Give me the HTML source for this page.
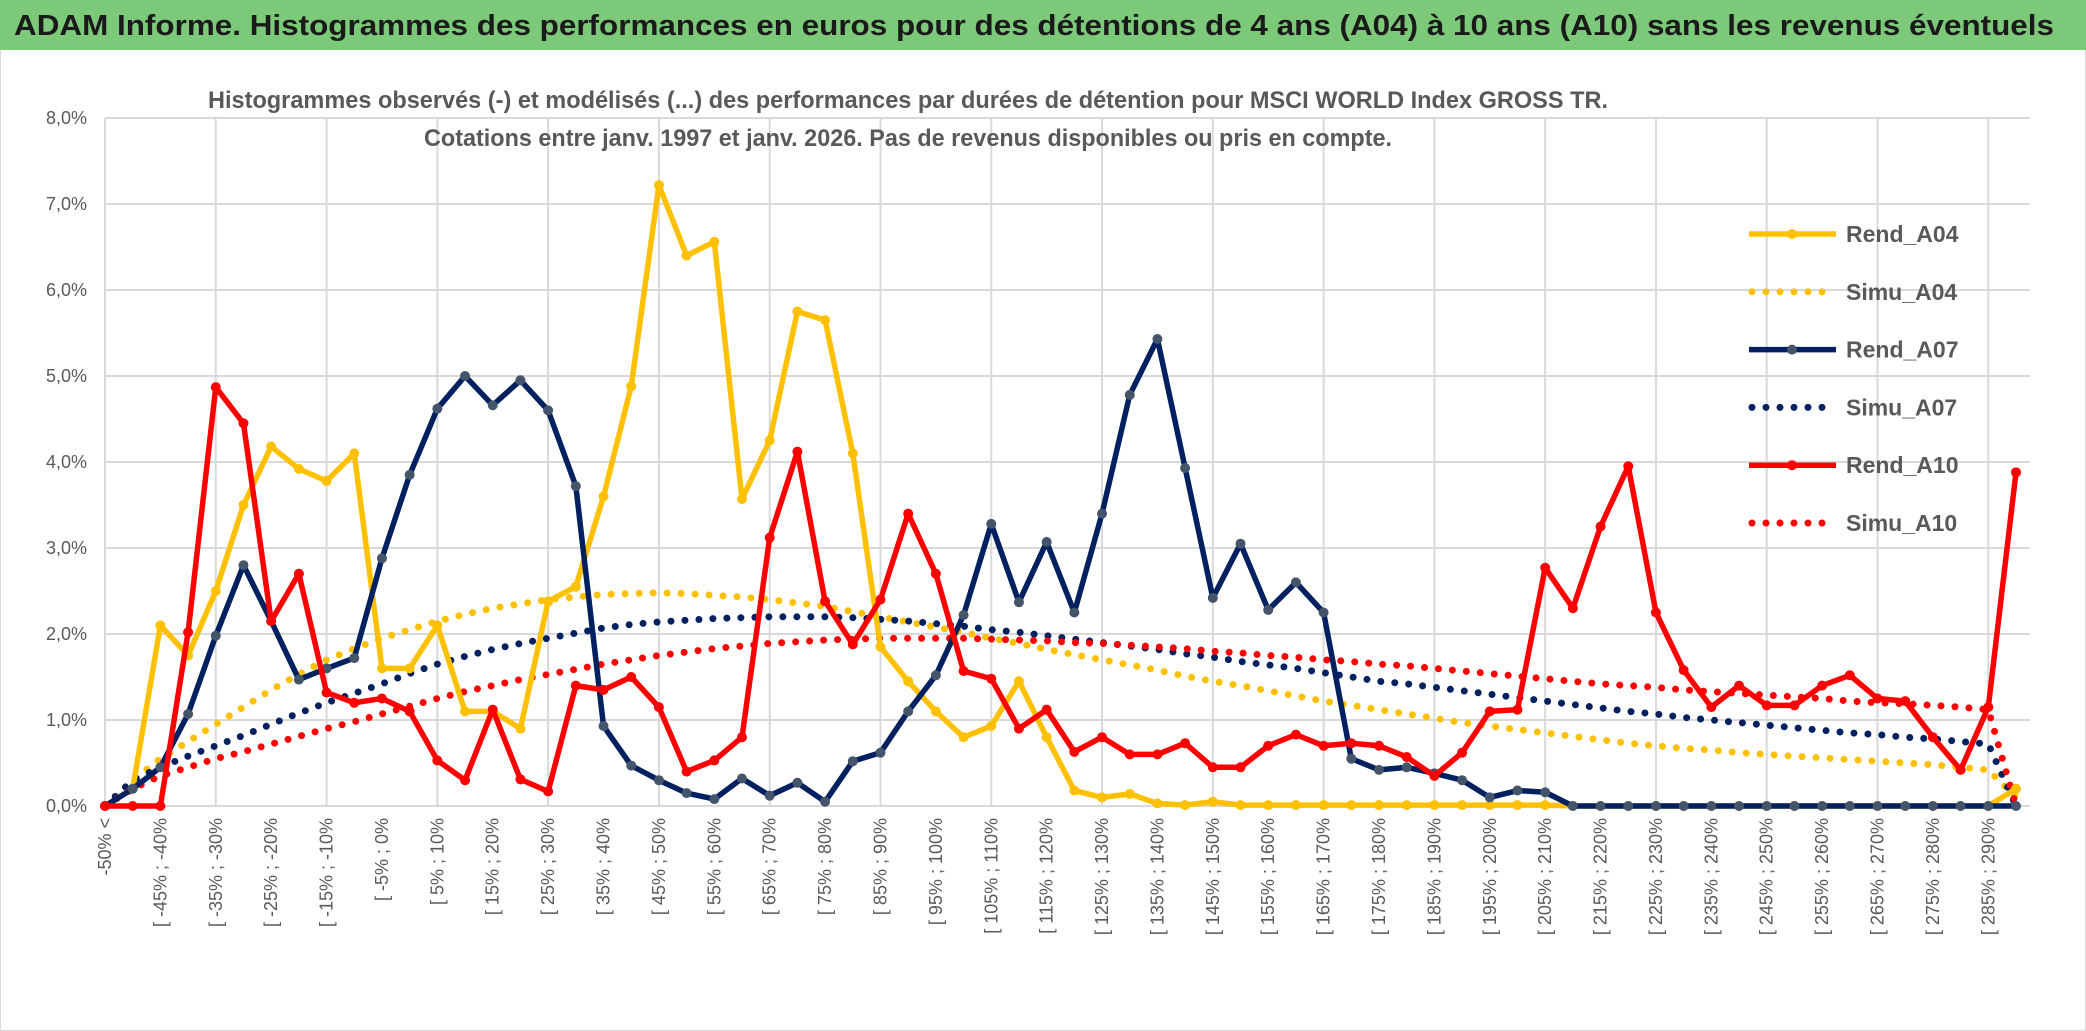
<!DOCTYPE html>
<html><head><meta charset="utf-8"><style>
body{margin:0;background:#fff;}
svg{display:block;font-family:"Liberation Sans Narrow","Liberation Sans",sans-serif;}
</style></head><body>
<svg id="chart" width="2086" height="1031" viewBox="0 0 2086 1031" xmlns="http://www.w3.org/2000/svg">
<rect x="0" y="0" width="2086" height="1031" fill="#fff" stroke="#d9d9d9" stroke-width="2"/>
<rect x="0" y="0" width="2086" height="50" fill="#7cc97a"/>
<text x="14" y="35" font-size="29" font-weight="bold" fill="#1a1a1a" textLength="2040" lengthAdjust="spacingAndGlyphs">ADAM Informe. Histogrammes des performances en euros pour des détentions de 4 ans (A04) à 10 ans (A10) sans les revenus éventuels</text>
<g id="grid"></g>
<text x="908" y="108" text-anchor="middle" font-size="24" font-weight="bold" fill="#595959" textLength="1400" lengthAdjust="spacingAndGlyphs">Histogrammes observés (-) et modélisés (...) des performances par durées de détention pour MSCI WORLD Index GROSS TR.</text>
<text x="908" y="146" text-anchor="middle" font-size="24" font-weight="bold" fill="#595959" textLength="968" lengthAdjust="spacingAndGlyphs">Cotations entre janv. 1997 et janv. 2026. Pas de revenus disponibles ou pris en compte.</text>
<g id="yaxis"></g>
<g id="xaxis"></g>
<g id="series"></g>
<g id="legend"></g>
</svg>
<script>
const yTicks = [0,1,2,3,4,5,6,7,8];
const yTickLabels = ["0,0%","1,0%","2,0%","3,0%","4,0%","5,0%","6,0%","7,0%","8,0%"];
const categories = ["-50% <"];
for (let k = -50; k < 295; k += 5) categories.push("[ " + k + "% ; " + (k+5) + "%");
const rendA04 = [0,0.2,2.1,1.75,2.5,3.5,4.18,3.92,3.78,4.1,1.6,1.6,2.1,1.1,1.1,0.9,2.38,2.55,3.6,4.88,7.22,6.4,6.56,3.57,4.25,5.75,5.65,4.1,1.85,1.45,1.1,0.8,0.93,1.45,0.8,0.18,0.1,0.14,0.03,0.01,0.05,0.01,0.01,0.01,0.01,0.01,0.01,0.01,0.01,0.01,0.01,0.01,0.01,0,0,0,0,0,0,0,0,0,0,0,0,0,0,0,0,0.2];
const rendA07 = [0,0.2,0.45,1.07,1.98,2.8,2.15,1.47,1.6,1.72,2.88,3.85,4.62,5.0,4.66,4.95,4.6,3.72,0.93,0.47,0.3,0.15,0.08,0.32,0.12,0.27,0.05,0.52,0.62,1.1,1.52,2.22,3.28,2.37,3.07,2.25,3.4,4.78,5.43,3.93,2.42,3.05,2.28,2.6,2.25,0.55,0.42,0.45,0.38,0.3,0.1,0.18,0.16,0,0,0,0,0,0,0,0,0,0,0,0,0,0,0,0,0];
const rendA10 = [0,0,0,2.02,4.87,4.45,2.15,2.7,1.32,1.2,1.25,1.1,0.53,0.3,1.12,0.31,0.17,1.4,1.35,1.5,1.15,0.4,0.53,0.8,3.12,4.12,2.38,1.88,2.4,3.4,2.7,1.57,1.48,0.9,1.12,0.63,0.8,0.6,0.6,0.73,0.45,0.45,0.7,0.83,0.7,0.73,0.7,0.57,0.35,0.62,1.1,1.12,2.77,2.3,3.25,3.95,2.25,1.58,1.15,1.4,1.17,1.17,1.4,1.52,1.25,1.22,0.8,0.42,1.15,3.88];
const simuA04 = [0,0.3,0.55,0.75,0.95,1.15,1.35,1.53,1.7,1.83,1.95,2.05,2.15,2.23,2.3,2.35,2.4,2.43,2.46,2.47,2.48,2.47,2.45,2.43,2.4,2.36,2.32,2.26,2.2,2.14,2.08,2.02,1.95,1.89,1.82,1.76,1.7,1.64,1.58,1.51,1.45,1.4,1.34,1.28,1.22,1.17,1.12,1.07,1.02,0.97,0.93,0.89,0.85,0.81,0.77,0.73,0.7,0.67,0.65,0.62,0.6,0.58,0.56,0.54,0.52,0.5,0.48,0.45,0.42,0.1];
const simuA07 = [0,0.3,0.45,0.58,0.7,0.82,0.95,1.08,1.2,1.31,1.42,1.54,1.65,1.74,1.82,1.89,1.95,2.01,2.07,2.11,2.14,2.16,2.18,2.19,2.2,2.2,2.2,2.19,2.17,2.15,2.12,2.09,2.05,2.02,1.98,1.94,1.9,1.86,1.82,1.77,1.73,1.68,1.64,1.6,1.55,1.5,1.45,1.42,1.38,1.34,1.3,1.26,1.22,1.18,1.14,1.1,1.07,1.03,1.0,0.97,0.94,0.91,0.88,0.85,0.83,0.8,0.78,0.75,0.72,0];
const simuA10 = [0,0.2,0.35,0.45,0.55,0.63,0.72,0.81,0.9,0.98,1.07,1.16,1.25,1.33,1.4,1.47,1.53,1.59,1.65,1.7,1.75,1.79,1.83,1.86,1.89,1.91,1.93,1.94,1.95,1.95,1.95,1.95,1.94,1.93,1.92,1.9,1.89,1.87,1.85,1.83,1.8,1.78,1.75,1.73,1.7,1.68,1.65,1.63,1.6,1.57,1.54,1.51,1.48,1.45,1.42,1.4,1.38,1.35,1.33,1.31,1.29,1.27,1.25,1.22,1.2,1.19,1.17,1.15,1.12,0];

const NS = "http://www.w3.org/2000/svg";
const X0 = 105, X1 = 2016, Y0 = 806, Y8 = 118, PLOT_R = 2030;
const xScale = i => X0 + (X1 - X0) * i / (categories.length - 1);
const yScale = v => Y0 - (Y0 - Y8) * v / 8;
function mk(tag, attrs, parent){const e=document.createElementNS(NS,tag);for(const k in attrs)e.setAttribute(k,attrs[k]);parent.appendChild(e);return e;}

const grid = document.getElementById('grid');
yTicks.forEach(t=>{
  const l = mk('line',{x1:X0,x2:PLOT_R,y1:yScale(t),y2:yScale(t),stroke:'#d9d9d9','stroke-width':2},grid);
  
  
});
for (let i=0;i<categories.length;i+=4){
  const l = mk('line',{x1:xScale(i),x2:xScale(i),y1:Y8,y2:Y0,stroke:'#d9d9d9','stroke-width':2},grid);
  
  
}
const yax = document.getElementById('yaxis');
yTicks.forEach((t,k)=>{
  const tx = mk('text',{x:87,y:yScale(t)+6,'text-anchor':'end','font-size':18,fill:'#595959'},yax);
  tx.textContent = yTickLabels[k];
  
  
});
const xax = document.getElementById('xaxis');
categories.forEach((c,i)=>{
  if (i%2) return;
  const x = xScale(i)+6, y = 818;
  const tx = mk('text',{x:x,y:y,'text-anchor':'end','font-size':18,fill:'#595959',transform:`rotate(-90 ${x} ${y})`},xax);
  tx.textContent = c;
  
  
});

const series = document.getElementById('series');
function dotted(data,color,name){
  const pts = data.map((v,i)=>xScale(i)+','+yScale(v)).join(' ');
  const p = mk('polyline',{points:pts,fill:'none',stroke:color,'stroke-width':7,'stroke-linecap':'round','stroke-dasharray':'0 14'},series);
  
  
}
function solid(data,color,mcol,name){
  const g = mk('g',{},series);
  
  
  const pts = data.map((v,i)=>xScale(i)+','+yScale(v)).join(' ');
  mk('polyline',{points:pts,fill:'none',stroke:color,'stroke-width':5.5,'stroke-linejoin':'round'},g);
  data.forEach((v,i)=>{
    const c = mk('circle',{cx:xScale(i),cy:yScale(v),r:5,fill:mcol},g);
    
    
  });
}
dotted(simuA04,'#FFC000','simu-a04-line');
dotted(simuA07,'#002060','simu-a07-line');
dotted(simuA10,'#FF0000','simu-a10-line');
solid(rendA04,'#FFC000','#FFC000','rend-a04-line');
solid(rendA07,'#002060','#44546A','rend-a07-line');
solid(rendA10,'#FF0000','#FF0000','rend-a10-line');

const legendNames = ["Rend_A04","Simu_A04","Rend_A07","Simu_A07","Rend_A10","Simu_A10"];
const legendColors = ['#FFC000','#FFC000','#002060','#002060','#FF0000','#FF0000'];
const lg = document.getElementById('legend');
legendNames.forEach((n,k)=>{
  const y = 234 + k*57.8;
  const g = mk('g',{},lg);
  
  
  if (k%2===0){
    mk('line',{x1:1749,x2:1836,y1:y,y2:y,stroke:legendColors[k],'stroke-width':5.5},g);
    mk('circle',{cx:1792,cy:y,r:5,fill:k===2?'#44546A':legendColors[k]},g);
  } else {
    mk('line',{x1:1752,x2:1836,y1:y,y2:y,stroke:legendColors[k],'stroke-width':7,'stroke-linecap':'round','stroke-dasharray':'0 14'},g);
  }
  const t = mk('text',{x:1846,y:y+8,'font-size':23,'font-weight':'bold',fill:'#595959'},g);
  t.textContent = n;
});
</script>
</body></html>
